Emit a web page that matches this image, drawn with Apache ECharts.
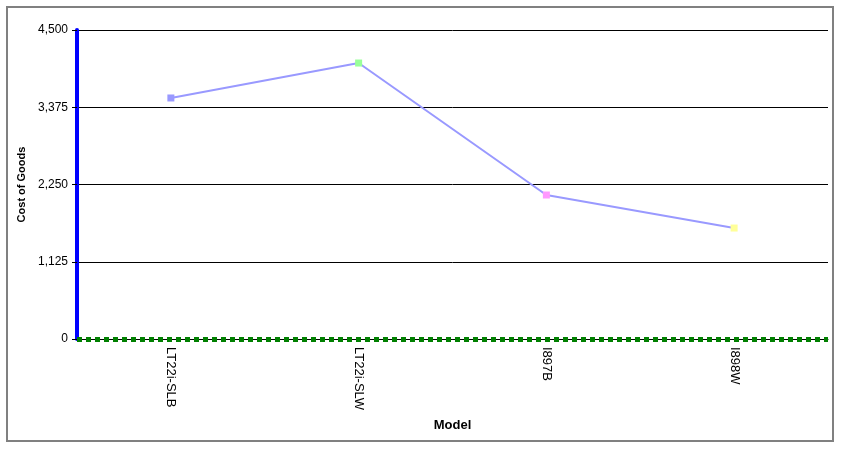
<!DOCTYPE html>
<html><head><meta charset="utf-8">
<script src="https://cdn.jsdelivr.net/npm/echarts@6/dist/echarts.min.js"></script>
<style>html,body{margin:0;padding:0;background:#fff}#c{width:847px;height:470px}</style>
</head><body><div id="c"></div>
<script>
const categories = ['LT22i-SLB', 'LT22i-SLW', 'I897B', 'I898W'];
const costOfGoods = [3510, 4019, 2097, 1616];
const markerColors = ['#9999ff', '#99ff99', '#ff99ff', '#ffff99'];
const yTicks = [0, 1125, 2250, 3375, 4500];

const chart = echarts.init(document.getElementById('c'));
const font = 'Liberation Sans, Arial, sans-serif';
chart.setOption({
  animation: false,
  backgroundColor: '#fff',
  graphic: [{type: 'rect', shape: {x: 7, y: 7, width: 826, height: 434}, style: {fill: 'none', stroke: '#808080', lineWidth: 2}}],
  grid: {left: 77, right: 19, top: 30, bottom: 131},
  xAxis: [{
    type: 'category', data: categories, boundaryGap: true,
    name: 'Model', nameLocation: 'middle', nameGap: 80,
    nameTextStyle: {fontFamily: font, fontSize: 13, fontWeight: 'bold', color: '#000'},
    axisLine: {lineStyle: {color: '#000', width: 1}},
    axisTick: {alignWithLabel: true, length: 4, lineStyle: {color: '#000'}},
    axisLabel: {rotate: -90, margin: 8, fontFamily: font, fontSize: 13, color: '#000'}
  }, {
    type: 'category', data: categories, position: 'bottom',
    axisLine: {lineStyle: {color: '#008000', width: 5, type: [5, 4], cap: 'butt'}},
    axisTick: {show: false}, axisLabel: {show: false}
  }],
  yAxis: {
    type: 'value', min: 0, max: 4500, interval: 1125,
    name: 'Cost of Goods', nameLocation: 'middle', nameGap: 50,
    nameTextStyle: {fontFamily: font, fontSize: 11, fontWeight: 'bold', color: '#000'},
    axisLine: {show: true, lineStyle: {color: '#0000ff', width: 4}},
    axisTick: {show: true, length: 5, lineStyle: {color: '#000'}},
    axisLabel: {margin: 9, fontFamily: font, fontSize: 12, color: '#000',
      formatter: v => v.toLocaleString('en-US')},
    splitLine: {lineStyle: {color: '#000', width: 1}}
  },
  series: [{
    type: 'line', data: costOfGoods.map((v, i) => ({value: v, itemStyle: {color: markerColors[i]}})),
    symbol: 'rect', symbolSize: 7, showSymbol: true,
    lineStyle: {color: '#9999ff', width: 2},
    itemStyle: {color: '#9999ff', borderWidth: 0}
  }]
});
</script></body></html>
